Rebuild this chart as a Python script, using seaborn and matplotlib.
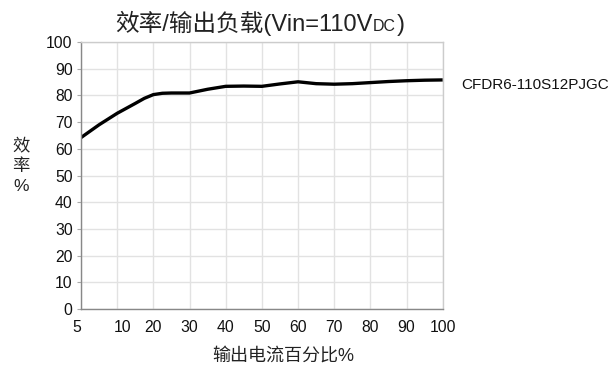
import numpy as np
import matplotlib
matplotlib.use("Agg")
import matplotlib.pyplot as plt
import matplotlib.transforms as mtransforms
import seaborn as sns

# Datos
load_ticks = [5, 10, 20, 30, 40, 50, 60, 70, 80, 90, 100]
load_pct = [5, 7.5, 10, 15, 17.5, 20, 22.5, 25, 30, 35, 40, 45, 50, 55, 60, 65, 70, 75, 80, 85, 90, 95, 100]
efficiency = [64.2, 69.0, 73.3, 77.0, 78.9, 80.3, 80.8, 80.9, 80.9, 82.3, 83.4, 83.5, 83.4,
              84.3, 85.1, 84.4, 84.2, 84.4, 84.8, 85.2, 85.5, 85.7, 85.8]
y_ticks = list(range(0, 101, 10))
model_name = "CFDR6-110S12PJGC"

sns.set_theme(style="white")
plt.rcParams['font.family'] = ['Liberation Sans', 'Noto Sans CJK SC']

fig = plt.figure(figsize=(6.09, 3.65), dpi=100)
ax = fig.add_axes([0.133, 0.1534, 0.594, 0.7315])

# eje x no lineal: cada marca ocupa una columna
positions = np.arange(len(load_ticks))
x_pos = np.interp(load_pct, load_ticks, positions)

sns.lineplot(x=x_pos, y=efficiency, color='black', linewidth=2.4, ax=ax,
             solid_joinstyle='round', solid_capstyle='butt')

ax.set_xlim(positions[0], positions[-1])
ax.set_ylim(0, 100)
ax.set_xticks(positions)
ax.set_xticklabels([str(v) for v in load_ticks])
ax.set_yticks(y_ticks)

ax.grid(True, color='#e2e2e2', linewidth=1.0)
ax.tick_params(axis='x', length=0, pad=8, labelsize=11.3, colors='#111111')
ax.tick_params(axis='y', length=3, width=0.8, color='#aaaaaa', pad=3,
               labelsize=11.3, labelcolor='#111111', left=True)
for side in ['left', 'bottom']:
    ax.spines[side].set_color('#888888')
    ax.spines[side].set_linewidth(1.0)
for side in ['top', 'right']:
    ax.spines[side].set_color('#cccccc')
    ax.spines[side].set_linewidth(1.0)

# pequeños desplazamientos de las etiquetas "5" y "10"
labels = ax.get_xticklabels()
labels[0].set_transform(labels[0].get_transform() + mtransforms.ScaledTranslation(-4/100, 0, fig.dpi_scale_trans))
labels[1].set_transform(labels[1].get_transform() + mtransforms.ScaledTranslation(5/100, 0, fig.dpi_scale_trans))

ax.set_xlabel("")
ax.set_ylabel("")
fig.text(283/609, 1 - 356/365, "输出电流百分比%", ha='center', va='center',
         fontsize=13, color='#222222', fontweight='light')
fig.text(21/609, 1 - 166/365, "效\n率\n%", ha='center', va='center',
         fontsize=12.5, color='#222222', linespacing=1.4, fontweight='light')

ax.text(10.52, 84, model_name, ha='left', va='center', fontsize=11,
        color='#111111', clip_on=False)

# título con "DC" en tamaño menor
title_y = 1 - 31/365
t1 = fig.text(115/609, title_y, "效率/输出负载(Vin=110V", ha='left',
              va='baseline', fontsize=17, color='#222222', fontweight='light')
fig.canvas.draw()
x_end = t1.get_window_extent().x1 / fig.bbox.width
t2 = fig.text(x_end + 0.5/609, title_y, "DC", fontsize=11.5, color='#222222',
              ha='left', va='baseline')
fig.canvas.draw()
x_end2 = t2.get_window_extent().x1 / fig.bbox.width
fig.text(x_end2 + 0.5/609, title_y, ")", ha='left', va='baseline',
         fontsize=17, color='#222222')

fig.savefig("out.png", dpi=100)
